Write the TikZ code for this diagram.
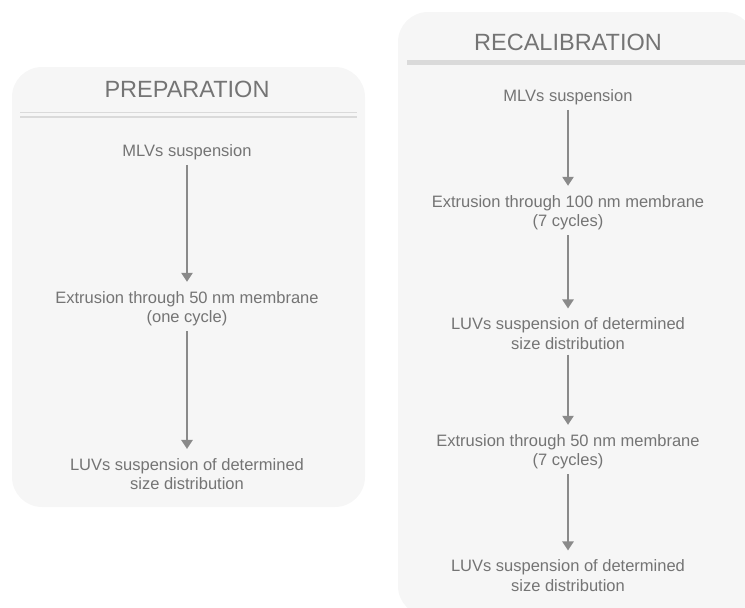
\documentclass[tikz,border=0pt]{standalone}
\usepackage{fontspec}
\setmainfont{Liberation Sans}
\usetikzlibrary{arrows.meta}
\definecolor{panelgray}{HTML}{F6F6F6}
\definecolor{rulegray}{HTML}{DADADA}
\definecolor{txtgray}{HTML}{747474}
\definecolor{arrowgray}{HTML}{8A8A8A}
\begin{document}
\begin{tikzpicture}[x=1pt,y=-1pt,
		txt/.style={text=txtgray, align=center, inner sep=2pt, font=\fontsize{16.5}{19.5}\selectfont},
		ttl/.style={text=txtgray, inner sep=0pt, font=\fontsize{23.5}{26}\selectfont},
		flow/.style={draw=arrowgray, line width=2.4pt, shorten <=3pt, shorten >=7pt,
			-{Triangle[length=9pt,width=11pt]}}]
	\useasboundingbox (0,0) rectangle (745,608);
	
	% panels
	\fill[panelgray, rounded corners=30pt] (12,67) rectangle (365,507);
	\fill[panelgray, rounded corners=30pt] (398,12) rectangle (754,616);
	
	% left column
	\def\xa{187}
	\node[ttl] (prep) at (\xa,89) {PREPARATION};
	\draw[rulegray, line width=1.8pt] (20,112.5) -- (357,112.5);
	\draw[rulegray, line width=1.8pt] (20,117) -- (357,117);
	\node[txt] (mlva) at (\xa,152) {MLVs suspension};
	\node[txt] (exta) at (\xa,308.5) {Extrusion through 50 nm membrane\\(one cycle)};
	\node[txt] (luva) at (\xa,474) {LUVs suspension of determined\\size distribution};
	\draw[flow] (mlva) -- (exta);
	\draw[flow] (exta) -- (luva);
	
	% right column
	\def\xb{568}
	\node[ttl] (recal) at (\xb,42) {RECALIBRATION};
	\draw[rulegray, line width=5pt] (407,62) -- (745,62);
	\node[txt] (mlvb) at (\xb,97) {MLVs suspension};
	\node[txt] (extb) at (\xb,212.5) {Extrusion through 100 nm membrane\\(7 cycles)};
	\node[txt] (luvb) at (\xb,333.5) {LUVs suspension of determined\\size distribution};
	\node[txt] (extc) at (\xb,451.5) {Extrusion through 50 nm membrane\\(7 cycles)};
	\node[txt] (luvc) at (\xb,575.5) {LUVs suspension of determined\\size distribution};
	\draw[flow] (mlvb) -- (extb);
	\draw[flow] (extb) -- (luvb);
	\draw[flow] (luvb) -- (extc);
	\draw[flow] (extc) -- (luvc);
\end{tikzpicture}
\end{document}
